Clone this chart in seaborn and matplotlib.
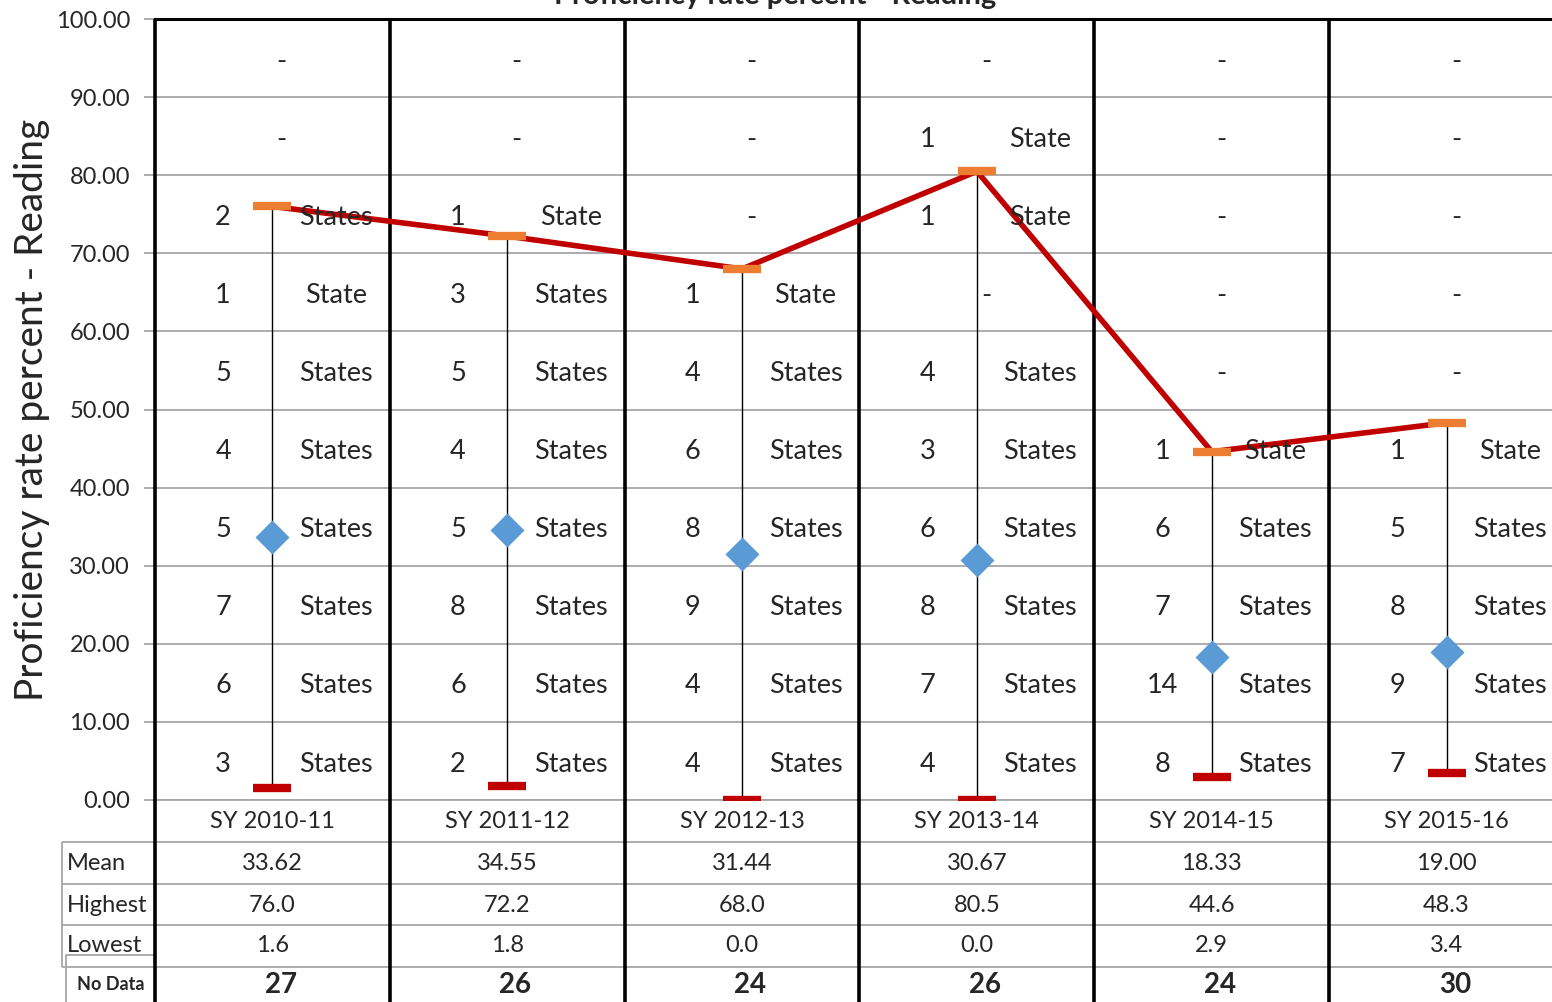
import numpy as np
import pandas as pd
import matplotlib
matplotlib.use("Agg")
import matplotlib.pyplot as plt
import seaborn as sns

# ---------------- data ----------------
years = ["SY 2010-11", "SY 2011-12", "SY 2012-13", "SY 2013-14", "SY 2014-15", "SY 2015-16"]
mean_vals = [33.62, 34.55, 31.44, 30.67, 18.33, 19.00]
high_vals = [76.0, 72.2, 68.0, 80.5, 44.6, 48.3]
low_vals = [1.6, 1.8, 0.0, 0.0, 2.9, 3.4]
no_data = [27, 26, 24, 26, 24, 30]
# number of states per 10-point band (0-10 first, 90-100 last); None shown as "-"
band_counts = [
    [3, 6, 7, 5, 4, 5, 1, 2, None, None],
    [2, 6, 8, 5, 4, 5, 3, 1, None, None],
    [4, 4, 9, 8, 6, 4, 1, None, None, None],
    [4, 7, 8, 6, 3, 4, None, 1, 1, None],
    [8, 14, 7, 6, 1, None, None, None, None, None],
    [7, 9, 8, 5, 1, None, None, None, None, None],
]
row_labels = ["Mean", "Highest", "Lowest"]

# ---------------- style ----------------
sns.set_theme(style="white")
plt.rcParams["font.family"] = ["Lato", "DejaVu Sans"]

W, H = 1552, 1002
fig = plt.figure(figsize=(W / 100, H / 100), dpi=100)
# plot area: x 155 -> 1564 px (last column runs off the image), y 19 -> 800 px
ax = fig.add_axes([155 / W, (H - 800) / H, 1409 / W, 781 / H])

df = pd.DataFrame({"x": np.arange(len(years)), "year": years,
                   "mean": mean_vals, "high": high_vals, "low": low_vals})

px = 1409 / 6.0          # pixels per column
upx = 781 / 100.0        # pixels per y unit
def xdata(p):            # pixel x -> data x
    return (p - 155) / px - 0.5
def ydata(p):            # pixel y -> data y
    return (800 - p) / upx

GRID = "#A6A6A6"

# line connecting highest values
sns.lineplot(data=df, x="x", y="high", color="#C00000", lw=4, ax=ax, zorder=5,
             legend=False)
# markers
sns.scatterplot(data=df, x="x", y="high", marker="_", s=27 ** 2, linewidth=6,
                color="#ED7D31", ax=ax, zorder=6, legend=False)
sns.scatterplot(data=df, x="x", y="low", marker="_", s=27 ** 2, linewidth=6,
                color="#C00000", ax=ax, zorder=6, legend=False)
sns.scatterplot(data=df, x="x", y="mean", marker="D", s=300, linewidth=0,
                color="#5B9BD5", ax=ax, zorder=6, legend=False)

ax.set_xlim(-0.5, 5.5)
ax.set_ylim(0, 100)

# grid / ticks
ax.set_yticks(np.arange(0, 101, 10))
ax.set_yticklabels([f"{v:.2f}" for v in np.arange(0, 101, 10)])
ax.yaxis.grid(True, color=GRID, lw=1.3, zorder=0)
ax.set_axisbelow(True)
ax.set_xticks([])
ax.tick_params(axis="y", which="both", left=True, length=8, width=1.3, color=GRID,
               labelsize=17, pad=10)
ax.spines["right"].set_visible(False)
ax.spines["left"].set_visible(False)
ax.spines["top"].set_color("black")
ax.spines["top"].set_linewidth(2.2)
ax.spines["bottom"].set_color(GRID)
ax.spines["bottom"].set_linewidth(1.3)

ax.set_xlabel("")
ax.set_ylabel("Proficiency rate percent - Reading", fontsize=28, labelpad=4)

# column separators (extend through the table)
ax.vlines(np.arange(-0.5, 6.0, 1.0), ymin=-40, ymax=100, color="black", lw=2.6,
          clip_on=False, zorder=3)

# table lines
table_y = [ydata(842), ydata(883.5), ydata(925), ydata(966.5)]
ax.hlines(table_y, xmin=xdata(62), xmax=5.5, color=GRID, lw=1.3, clip_on=False, zorder=1)
ax.vlines([xdata(62)], ymin=table_y[-1], ymax=table_y[0], color=GRID, lw=1.3, clip_on=False)
# "No Data" box
nd_top = ydata(955)
ax.plot([xdata(66), xdata(66), -0.5], [-40, nd_top, nd_top], color=GRID, lw=1.3,
        clip_on=False)

# high-low lines
ax.vlines(df["x"], df["low"], df["high"], color="black", lw=1.0, zorder=4)

# band labels
BAND_FS = 19.5
for i, counts in enumerate(band_counts):
    for b, c in enumerate(counts):
        yc = 5 + 10 * b - 0.4
        if c is None:
            ax.text(i + 0.04, yc, "-", ha="center", va="center", fontsize=BAND_FS, zorder=8)
        else:
            ax.text(i - 0.21, yc, str(c), ha="center", va="center", fontsize=BAND_FS, zorder=8)
            word = "State" if c == 1 else "States"
            ax.text(i + 0.27, yc, word, ha="center", va="center", fontsize=BAND_FS, zorder=8)

# table text
y_cat = ydata(822)
y_rows = [ydata(863), ydata(905), ydata(946)]
y_nd = ydata(985)
for i in range(len(years)):
    ax.text(i, y_cat, years[i], ha="center", va="center", fontsize=17, clip_on=False)
    ax.text(i, y_rows[0], f"{mean_vals[i]:.2f}", ha="center", va="center", fontsize=17, clip_on=False)
    ax.text(i, y_rows[1], f"{high_vals[i]:.1f}", ha="center", va="center", fontsize=17, clip_on=False)
    ax.text(i, y_rows[2], f"{low_vals[i]:.1f}", ha="center", va="center", fontsize=17, clip_on=False)
    ax.text(i + 0.035, y_nd, str(no_data[i]), ha="center", va="center", fontsize=20,
            fontweight="bold", clip_on=False)
for lab, yy in zip(row_labels, y_rows):
    ax.text(xdata(67), yy, lab, ha="left", va="center", fontsize=17, clip_on=False)
ax.text(xdata(111), y_nd, "No Data", ha="center", va="center", fontsize=13,
        fontweight="bold", clip_on=False)

# title (mostly cut off at top edge, as in the reference)
fig.text(775 / W, 1 - 4 / H, "Proficiency rate percent - Reading", ha="center",
         va="baseline", fontsize=21, fontweight="bold")

fig.savefig("out.png", dpi=100)
